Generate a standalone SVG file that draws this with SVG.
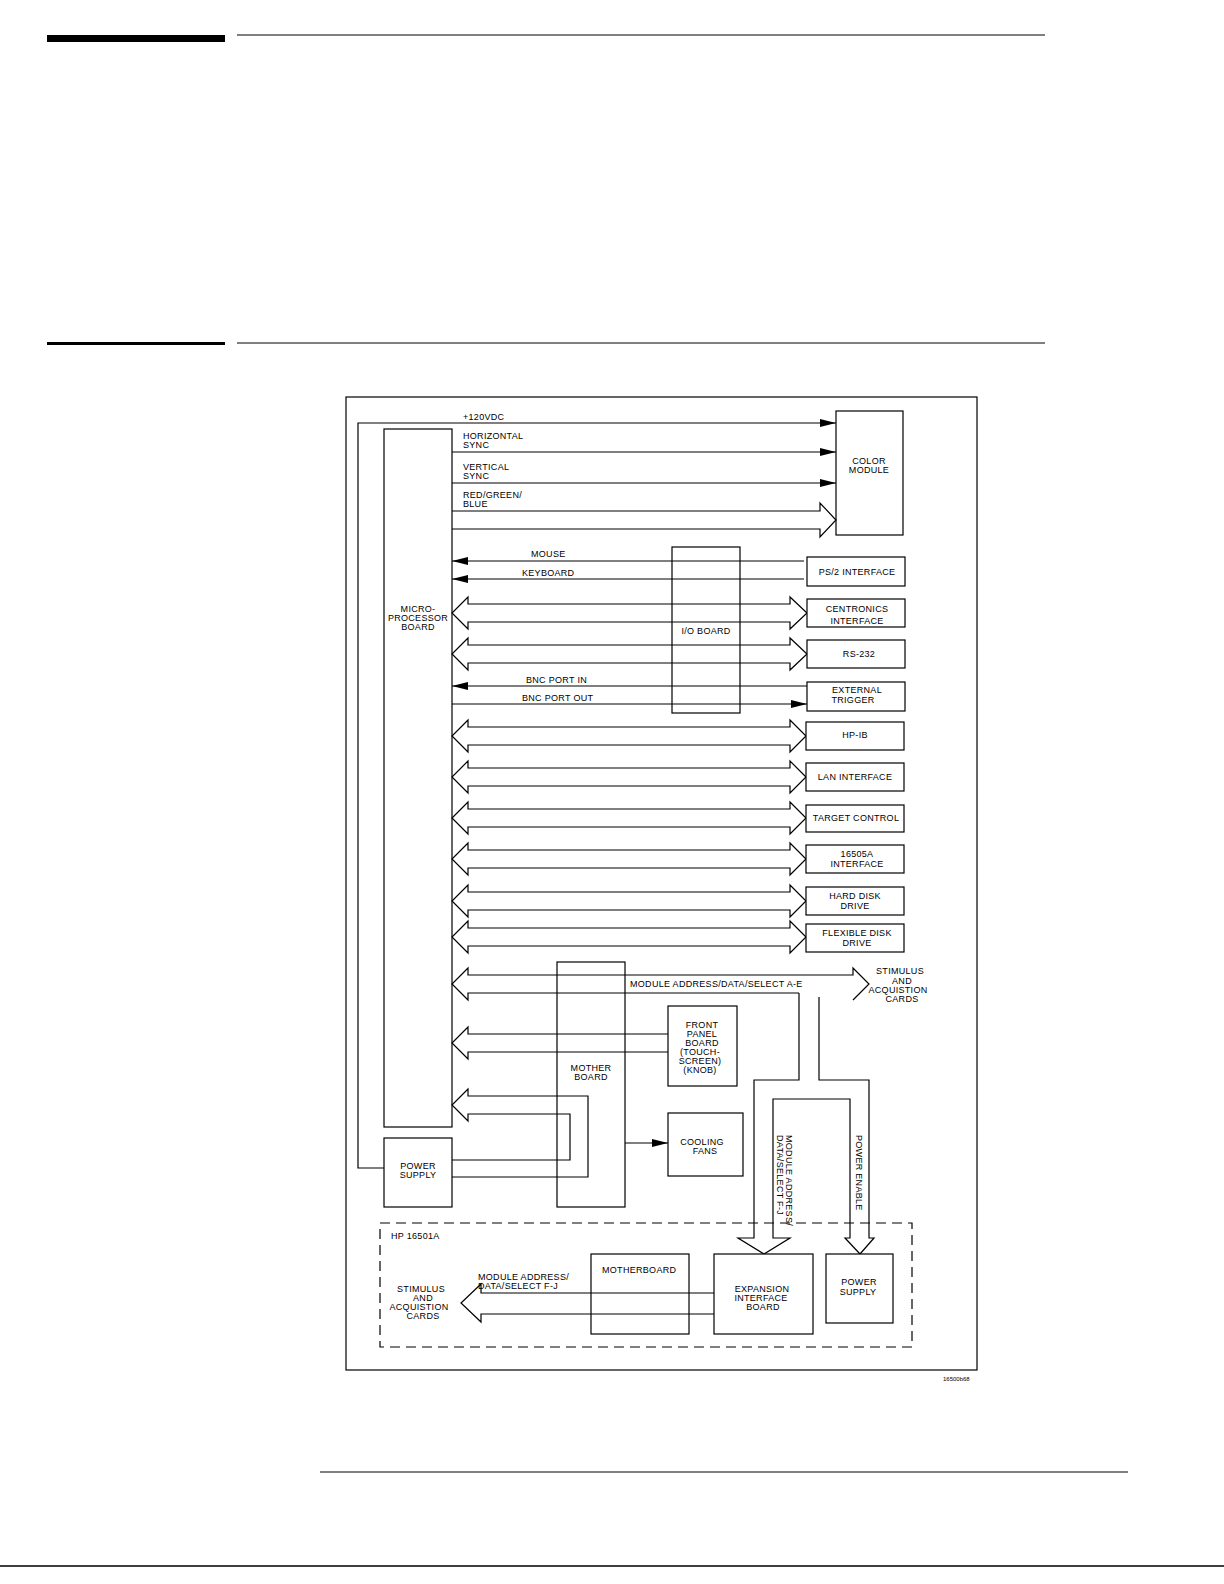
<svg xmlns="http://www.w3.org/2000/svg" width="1224" height="1584" viewBox="0 0 1224 1584">
<style>
.b{fill:none;stroke:#000;stroke-width:1.2}
.l{fill:none;stroke:#000;stroke-width:1.2}
.w{fill:#fff;stroke:#000;stroke-width:1.2}
text{font-family:"Liberation Sans",Arial,sans-serif;font-size:9px;fill:#000;letter-spacing:0.3px}
.c{text-anchor:middle}
</style>
<defs>
<marker id="ah" markerWidth="16" markerHeight="10" refX="16" refY="5" orient="auto" markerUnits="userSpaceOnUse"><path d="M0,1 L16,5 L0,9 Z" fill="#000"/></marker>
</defs>
<rect width="1224" height="1584" fill="#fff"/>
<g id="page">
<rect x="47" y="35" width="178" height="7" fill="#000"/>
<line x1="237" y1="35" x2="1045" y2="35" stroke="#000" stroke-width="1"/>
<rect x="47" y="342" width="178" height="3" fill="#000"/>
<line x1="237" y1="343" x2="1045" y2="343" stroke="#000" stroke-width="1"/>
<line x1="320" y1="1472" x2="1128" y2="1472" stroke="#000" stroke-width="1"/>
<line x1="0" y1="1566" x2="1224" y2="1566" stroke="#000" stroke-width="1.5"/>
<rect x="346" y="397" width="631" height="973" class="b"/>
<text x="943" y="1381" style="font-size:6px;letter-spacing:0">16500b68</text>
</g>
<g id="connectors">
<polyline class="l" points="384,1168 358,1168 358,423 836,423" marker-end="url(#ah)"/>
<line class="l" x1="452" y1="452" x2="836" y2="452" marker-end="url(#ah)"/>
<line class="l" x1="452" y1="483" x2="836" y2="483" marker-end="url(#ah)"/>
<path class="l" d="M452,511 H820 V503 L836,520 L820,537 V529 H452"/>
<line class="l" x1="804" y1="561" x2="452" y2="561" marker-end="url(#ah)"/>
<line class="l" x1="804" y1="579" x2="452" y2="579" marker-end="url(#ah)"/>
<g id="dbl">
<path class="l" d="M468,604 H790 V597 L807,613 L790,629 V622 H468 V629 L452,613 L468,597 Z"/>
<path class="l" d="M468,645 H790 V638 L807,654 L790,670 V663 H468 V670 L452,654 L468,638 Z"/>
<path class="l" d="M468,727 H790 V720 L806,736 L790,752 V745 H468 V752 L452,736 L468,720 Z"/>
<path class="l" d="M468,768 H790 V761 L806,777 L790,793 V786 H468 V793 L452,777 L468,761 Z"/>
<path class="l" d="M468,809 H790 V802 L806,818 L790,834 V827 H468 V834 L452,818 L468,802 Z"/>
<path class="l" d="M468,850 H790 V843 L806,859 L790,875 V868 H468 V875 L452,859 L468,843 Z"/>
<path class="l" d="M468,892 H790 V885 L806,901 L790,917 V910 H468 V917 L452,901 L468,885 Z"/>
<path class="l" d="M468,928 H790 V921 L806,937 L790,953 V946 H468 V953 L452,937 L468,921 Z"/>
</g>
<line class="l" x1="807" y1="686" x2="452" y2="686" marker-end="url(#ah)"/>
<line class="l" x1="452" y1="704" x2="807" y2="704" marker-end="url(#ah)"/>
<path class="l" d="M799,993 H468 V1000 L452,984 L468,968 V975 H853 V968 L869,984 L853,1000"/>
<path class="l" d="M799,993 V1080 H754 V1238 H738 L764,1254 L790,1238 H773 V1099 H850 V1238 H845 L860,1254 L874,1238 H869 V1080 H819 V997"/>
<path class="l" d="M668,1034 H468 V1027 L452,1043 L468,1059 V1052 H668"/>
<path class="l" d="M452,1177 H588 V1096 H468 V1089 L452,1105 L468,1121 V1114 H570 V1160 H452"/>
<line class="l" x1="625" y1="1143" x2="668" y2="1143" marker-end="url(#ah)"/>
<path class="l" d="M714,1293 H481 V1284 L461,1303 L481,1322 V1314 H714"/>
</g>
<g id="micro"><rect class="b" x="384" y="429" width="68" height="698"/><text class="c" x="418" y="612">MICRO-</text><text class="c" x="418" y="621">PROCESSOR</text><text class="c" x="418" y="630">BOARD</text></g>
<g id="psu"><rect class="b" x="384" y="1138" width="68" height="69"/><text class="c" x="418" y="1169">POWER</text><text class="c" x="418" y="1178">SUPPLY</text></g>
<g id="color"><rect class="b" x="836" y="411" width="67" height="124"/><text class="c" x="869" y="464">COLOR</text><text class="c" x="869" y="473">MODULE</text></g>
<g id="labels">
<text x="463" y="420">+120VDC</text>
<text x="463" y="439">HORIZONTAL</text><text x="463" y="448">SYNC</text>
<text x="463" y="470">VERTICAL</text><text x="463" y="479">SYNC</text>
<text x="463" y="498">RED/GREEN/</text><text x="463" y="507">BLUE</text>
<text x="531" y="557">MOUSE</text>
<text x="522" y="576">KEYBOARD</text>
<text x="526" y="683">BNC PORT IN</text>
<text x="522" y="701">BNC PORT OUT</text>
<text x="630" y="987">MODULE ADDRESS/DATA/SELECT A-E</text>
<text class="c" x="900" y="974">STIMULUS</text><text class="c" x="902" y="984">AND</text><text class="c" x="898" y="993">ACQUISTION</text><text class="c" x="902" y="1002">CARDS</text>
<text transform="translate(786,1135) rotate(90)">MODULE ADDRESS/</text>
<text transform="translate(777,1135) rotate(90)">DATA/SELECT F-J</text>
<text transform="translate(856,1135) rotate(90)">POWER ENABLE</text>
<text x="478" y="1280">MODULE ADDRESS/</text><text x="478" y="1289">DATA/SELECT F-J</text>
<text class="c" x="421" y="1292">STIMULUS</text><text class="c" x="423" y="1301">AND</text><text class="c" x="419" y="1310">ACQUISTION</text><text class="c" x="423" y="1319">CARDS</text>
</g>
<g id="io"><rect class="b" x="672" y="547" width="68" height="166"/><text class="c" x="706" y="634">I/O BOARD</text></g>
<g id="ps2"><rect class="w" x="807" y="557" width="98" height="29"/><text class="c" x="857" y="575">PS/2 INTERFACE</text></g>
<g id="centronics"><rect class="w" x="807" y="599" width="98" height="28"/><text class="c" x="857" y="612">CENTRONICS</text><text class="c" x="857" y="624">INTERFACE</text></g>
<g id="rs232"><rect class="w" x="807" y="640" width="98" height="28"/><text class="c" x="859" y="657">RS-232</text></g>
<g id="ext"><rect class="w" x="807" y="682" width="98" height="29"/><text class="c" x="857" y="693">EXTERNAL</text><text class="c" x="853" y="703">TRIGGER</text></g>
<g id="hpib"><rect class="w" x="806" y="722" width="98" height="28"/><text class="c" x="855" y="738">HP-IB</text></g>
<g id="lan"><rect class="w" x="806" y="763" width="98" height="28"/><text class="c" x="855" y="780">LAN INTERFACE</text></g>
<g id="target"><rect class="w" x="806" y="805" width="98" height="27"/><text class="c" x="856" y="821">TARGET CONTROL</text></g>
<g id="i16505"><rect class="w" x="806" y="845" width="98" height="28"/><text class="c" x="857" y="857">16505A</text><text class="c" x="857" y="867">INTERFACE</text></g>
<g id="hdd"><rect class="w" x="806" y="887" width="98" height="28"/><text class="c" x="855" y="899">HARD DISK</text><text class="c" x="855" y="909">DRIVE</text></g>
<g id="fdd"><rect class="w" x="806" y="924" width="98" height="28"/><text class="c" x="857" y="936">FLEXIBLE DISK</text><text class="c" x="857" y="946">DRIVE</text></g>
<g id="mother"><rect class="b" x="557" y="962" width="68" height="245"/><text class="c" x="591" y="1071">MOTHER</text><text class="c" x="591" y="1080">BOARD</text></g>
<g id="front"><rect class="w" x="668" y="1006" width="69" height="80"/><text class="c" x="702" y="1028">FRONT</text><text class="c" x="702" y="1037">PANEL</text><text class="c" x="702" y="1046">BOARD</text><text class="c" x="700" y="1055">(TOUCH-</text><text class="c" x="700" y="1064">SCREEN)</text><text class="c" x="700" y="1073">(KNOB)</text></g>
<g id="fans"><rect class="w" x="668" y="1113" width="75" height="63"/><text class="c" x="702" y="1145">COOLING</text><text class="c" x="705" y="1154">FANS</text></g>
<g id="hp16501a"><rect x="380" y="1223" width="532" height="124" fill="none" stroke="#000" stroke-width="1.2" stroke-dasharray="10,6"/><text x="391" y="1239">HP 16501A</text></g>
<g id="mb2"><rect class="b" x="591" y="1254" width="98" height="80"/><text x="602" y="1273">MOTHERBOARD</text></g>
<g id="exp"><rect class="w" x="714" y="1254" width="99" height="80"/><text class="c" x="762" y="1292">EXPANSION</text><text class="c" x="761" y="1301">INTERFACE</text><text class="c" x="763" y="1310">BOARD</text></g>
<g id="psu2"><rect class="w" x="826" y="1254" width="67" height="69"/><text class="c" x="859" y="1285">POWER</text><text class="c" x="858" y="1295">SUPPLY</text></g>
</svg>
